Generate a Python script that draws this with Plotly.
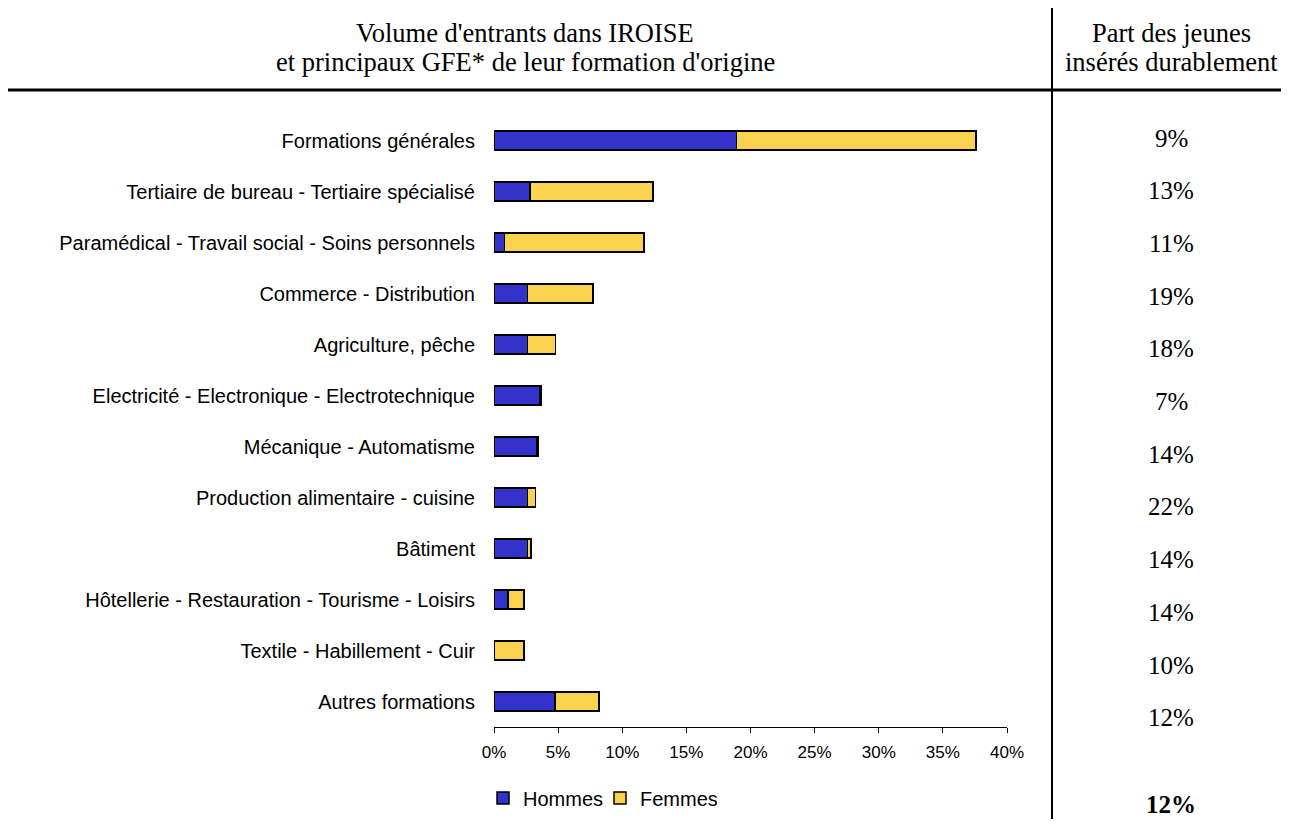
import plotly.graph_objects as go

# Données (part des entrants, en %)
categories = [
    "Formations générales",
    "Tertiaire de bureau - Tertiaire spécialisé",
    "Paramédical - Travail social - Soins personnels",
    "Commerce - Distribution",
    "Agriculture, pêche",
    "Electricité - Electronique - Electrotechnique",
    "Mécanique - Automatisme",
    "Production alimentaire - cuisine",
    "Bâtiment",
    "Hôtellerie - Restauration - Tourisme - Loisirs",
    "Textile - Habillement - Cuir",
    "Autres formations",
]
hommes = [18.9, 2.8, 0.8, 2.6, 2.6, 3.6, 3.35, 2.6, 2.6, 1.1, 0.0, 4.75]
femmes = [18.7, 9.6, 10.9, 5.1, 2.2, 0.1, 0.12, 0.65, 0.27, 1.25, 2.35, 3.45]
part_inseres = ["9%", "13%", "11%", "19%", "18%", "7%", "14%", "22%", "14%", "14%", "10%", "12%"]
part_total = "12%"
x_ticks = [0, 5, 10, 15, 20, 25, 30, 35, 40]

BLEU = "#3333CC"
JAUNE = "#FBD24E"

# Zone de tracé visée, en pixels de l'écran (la page ajoute 8 px de marge)
OFF = 8
W, H = 1289 - 2 * OFF, 827 - 2 * OFF
SL, SR, ST, SB = 494, 1007, 115, 727


def px_x(x):
    return (x - SL) / (SR - SL)


def px_y(y):
    return (SB - y) / (SB - ST)


fig = go.Figure()
fig.add_trace(go.Bar(
    y=categories, x=hommes, name="Hommes", orientation="h",
    marker=dict(color=BLEU, line=dict(color="black", width=1.5)),
    width=0.38,
))
fig.add_trace(go.Bar(
    y=categories, x=femmes, name="Femmes", orientation="h",
    marker=dict(color=JAUNE, line=dict(color="black", width=1.5)),
    width=0.38,
))

serif = "Liberation Serif"

# Colonne de droite : part des jeunes insérés durablement
for i, txt in enumerate(part_inseres):
    fig.add_annotation(
        x=px_x(1171), y=px_y(138 + 52.7 * i), xref="paper", yref="paper",
        xanchor="center", yanchor="middle",
        text=txt, showarrow=False,
        font=dict(family=serif, size=25, color="black"),
    )
fig.add_annotation(
    x=px_x(1171), y=px_y(804), xref="paper", yref="paper",
    xanchor="center", yanchor="middle",
    text="<b>" + part_total + "</b>", showarrow=False,
    font=dict(family=serif, size=25, color="black"),
)

# En-têtes (une annotation par ligne pour garder un interligne serré)
entetes = [
    (525, 33, "Volume d'entrants dans IROISE"),
    (525, 62, "et principaux GFE* de leur formation d'origine"),
    (1171, 33, "Part des jeunes"),
    (1171, 62, "insérés durablement"),
]
for x, y, txt in entetes:
    fig.add_annotation(
        x=px_x(x), y=px_y(y), xref="paper", yref="paper",
        xanchor="center", yanchor="middle",
        text=txt, showarrow=False,
        font=dict(family=serif, size=26.5, color="black"),
    )

# Traits du tableau
fig.add_shape(type="line", xref="paper", yref="paper",
              x0=px_x(8), x1=px_x(1289), y0=px_y(90), y1=px_y(90),
              line=dict(color="black", width=3))
fig.add_shape(type="line", xref="paper", yref="paper",
              x0=px_x(1052), x1=px_x(1052), y0=px_y(8), y1=px_y(827),
              line=dict(color="black", width=2))

fig.update_layout(
    barmode="stack",
    width=W, height=H,
    margin=dict(l=SL - OFF, r=W - (SR - OFF), t=ST - OFF, b=H - (SB - OFF),
                autoexpand=False),
    plot_bgcolor="white", paper_bgcolor="white",
    font=dict(family="Liberation Sans", color="black"),
    showlegend=True,
    legend=dict(orientation="h", x=px_x(483), y=px_y(798),
                xanchor="left", yanchor="middle",
                entrywidth=72, entrywidthmode="pixels",
                font=dict(family="Liberation Sans", size=20), traceorder="normal"),
)
fig.update_xaxes(
    range=[0, 40], tickvals=x_ticks, ticktext=[f"{v}%" for v in x_ticks],
    showline=True, linecolor="black", linewidth=1.2,
    ticks="outside", ticklen=5, tickcolor="black",
    ticklabelstandoff=4,
    showgrid=False, zeroline=False, fixedrange=True,
    tickfont=dict(family="Liberation Sans", size=17),
)
fig.update_yaxes(
    categoryorder="array", categoryarray=categories[::-1],
    range=[-0.5, 11.5],
    showline=False, showgrid=False, zeroline=False, ticks="",
    ticklabelstandoff=18,
    tickfont=dict(family="Liberation Sans", size=20),
)

fig.write_html("out.html")
